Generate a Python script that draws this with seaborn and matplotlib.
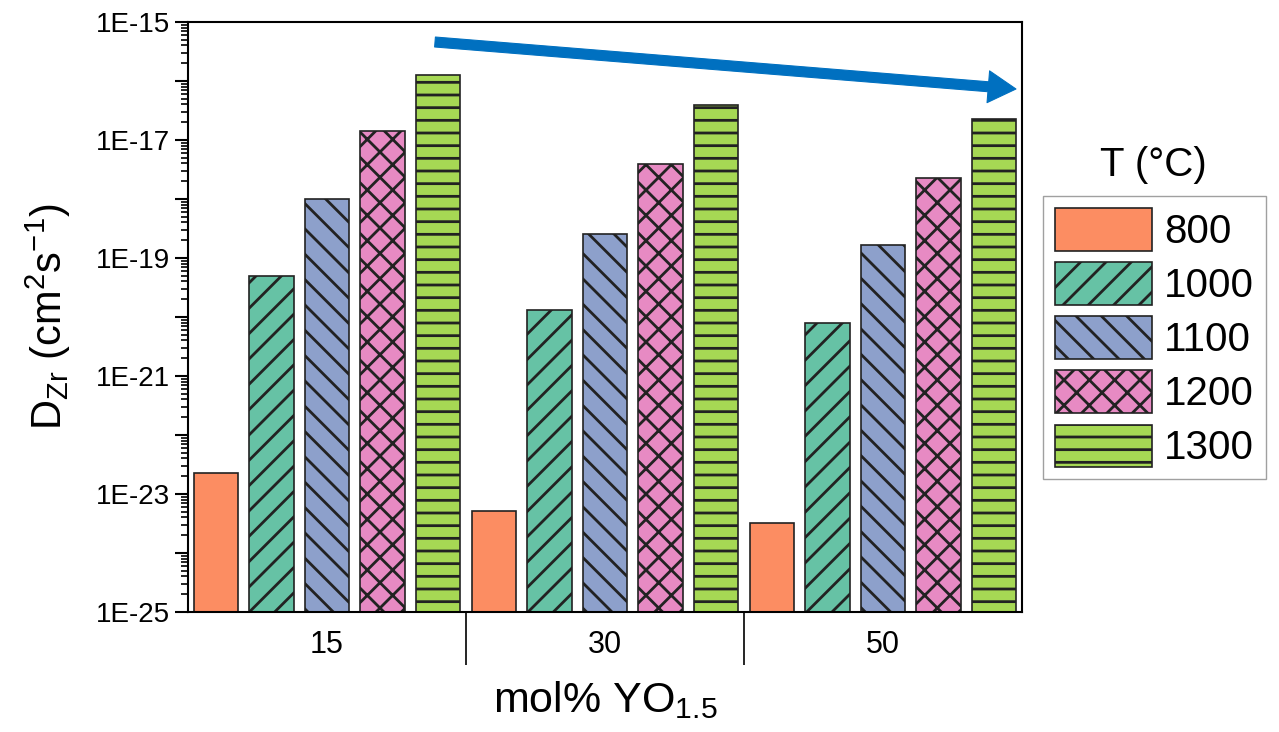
import numpy as np
import pandas as pd
import matplotlib
matplotlib.use("Agg")
import matplotlib.pyplot as plt
import seaborn as sns
from matplotlib.ticker import FixedLocator, FuncFormatter, NullFormatter
from matplotlib.patches import FancyArrowPatch

# Zr diffusion coefficients (cm^2/s) by yttria content and temperature
compositions = ["15", "30", "50"]
temperatures = ["800", "1000", "1100", "1200", "1300"]
d_800 = [2.3e-23, 5.1e-24, 3.2e-24]
d_1000 = [4.9e-20, 1.3e-20, 8.0e-21]
d_1100 = [1.0e-18, 2.6e-19, 1.66e-19]
d_1200 = [1.4e-17, 3.9e-18, 2.3e-18]
d_1300 = [1.25e-16, 3.9e-17, 2.3e-17]

colors = ["#FC8D62", "#66C2A5", "#8DA0CB", "#E78AC3", "#A6D854"]
hatches = ["", "/", "\\", "x", "-"]

series = [d_800, d_1000, d_1100, d_1200, d_1300]
df = pd.DataFrame(
    [(c, t, v) for t, vals in zip(temperatures, series) for c, v in zip(compositions, vals)],
    columns=["comp", "T", "D"],
)

# The hatch tile is one inch of output, so a lower dpi gives a finer hatch;
# point sizes below are scaled so text and lines keep their pixel size.
DPI = 76
K = 100 / DPI


def pt(v):
    return v * K


sns.set_style("ticks")
plt.rcParams["font.family"] = ["Liberation Sans", "DejaVu Sans"]
plt.rcParams["text.color"] = "black"
plt.rcParams["axes.labelcolor"] = "black"
plt.rcParams["xtick.color"] = "black"
plt.rcParams["ytick.color"] = "black"
plt.rcParams["hatch.linewidth"] = pt(2.0)
plt.rcParams["mathtext.fontset"] = "custom"
plt.rcParams["mathtext.rm"] = "Liberation Sans"
plt.rcParams["mathtext.it"] = "Liberation Sans"

fig = plt.figure(figsize=(1279 / DPI, 732 / DPI), dpi=DPI)
ax = fig.add_axes([188 / 1279, 1 - 612 / 732, (1022 - 188) / 1279, (612 - 22) / 732])

sns.barplot(
    data=df, x="comp", y="D", hue="T", order=compositions, hue_order=temperatures,
    palette=colors, saturation=1, width=1.0, gap=0.2, edgecolor="#222222", linewidth=pt(1.2),
    legend=False, ax=ax,
)
for cont, h in zip(ax.containers, hatches):
    for bar in cont:
        bar.set_hatch(h)

ax.set_yscale("log")
ax.set_ylim(1e-25, 1e-15)
ax.set_xlim(-0.5, 2.5)


def decade_label(v, pos):
    e = int(round(np.log10(v)))
    return "1E%d" % e if e % 2 != 0 else ""


# y ticks: every decade, labels on odd exponents
ax.yaxis.set_major_locator(FixedLocator([10.0 ** e for e in range(-25, -14)]))
ax.yaxis.set_major_formatter(FuncFormatter(decade_label))
ax.yaxis.set_minor_locator(FixedLocator([m * 10.0 ** e for e in range(-25, -15) for m in range(2, 10)]))
ax.yaxis.set_minor_formatter(NullFormatter())
ax.tick_params(axis="y", which="major", direction="out", length=pt(9), width=pt(1.5),
               labelsize=pt(20), pad=pt(4))
ax.tick_params(axis="y", which="minor", direction="out", length=pt(5), width=pt(1.2))

# x axis: group labels with long separator ticks between groups
ax.set_xticks([0, 1, 2])
ax.set_xticklabels(compositions)
ax.xaxis.set_minor_locator(FixedLocator([0.5, 1.5]))
ax.tick_params(axis="x", which="major", length=0, labelsize=pt(22), pad=pt(13))
ax.tick_params(axis="x", which="minor", direction="out", length=pt(38), width=pt(1.2))

for s in ax.spines.values():
    s.set_linewidth(pt(1.5))
    s.set_color("black")

ax.set_xlabel("mol% YO$_{1.5}$", fontsize=pt(31), labelpad=pt(8))
ax.set_ylabel("D$_{Zr}$ (cm$^2$s$^{-1}$)", fontsize=pt(30), labelpad=pt(16))

leg = ax.legend(
    ax.containers, temperatures, loc="upper left", bbox_to_anchor=(1043 / 1279, 1 - 196 / 732),
    bbox_transform=fig.transFigure, fontsize=pt(29), frameon=True, fancybox=False,
    handlelength=2.4, handleheight=1.25, labelspacing=0.28, handletextpad=0.3,
    borderpad=0.3, borderaxespad=0,
)
leg.get_frame().set_edgecolor("#888888")
leg.get_frame().set_linewidth(pt(1.0))
fig.text(1153 / 1279, 1 - 165 / 732, "T (°C)", fontsize=pt(29), ha="center", va="center")

arrow = FancyArrowPatch(
    (435 / 1279, 1 - 42 / 732), (1016 / 1279, 1 - 89 / 732), transform=fig.transFigure,
    arrowstyle="simple,head_width=2.3,head_length=2.0,tail_width=0.72", mutation_scale=pt(10),
    color="#0070C0", shrinkA=0, shrinkB=0,
)
fig.patches.append(arrow)

fig.savefig("out.png", dpi=DPI)
